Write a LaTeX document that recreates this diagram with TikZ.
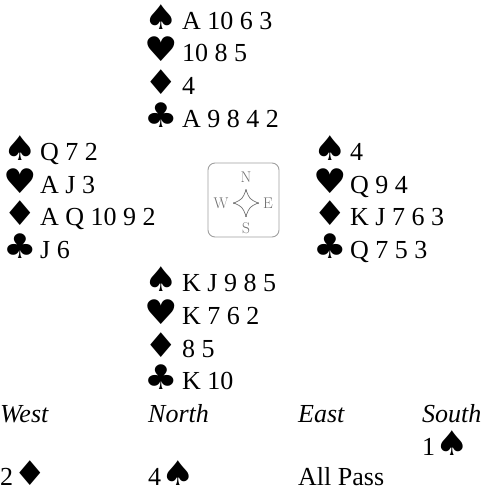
\documentclass[tikz,border=0pt]{standalone}
\usepackage{fontspec}
\newfontfamily\tnr{Liberation Serif}
\newfontfamily\dvs{DejaVu Sans}
\newcommand\handfont{\tnr\fontsize{26}{32.8}\selectfont}
\newcommand\bidfont{\tnr\itshape\fontsize{26}{32.8}\selectfont}
\newcommand\suitfont{\dvs\fontsize{34}{32.8}\selectfont}
\newcommand\compfont{\fontsize{15.5}{18}\selectfont}
\newcommand\st[1]{{\suitfont\scalebox{1.1}[1]{#1}}}
\definecolor{compgray}{HTML}{707070}
\definecolor{boxgray}{HTML}{A0A0A0}
% \hrow{name}{suit centre x}{text x}{baseline y}{suit}{cards}
\newcommand\hrow[6]{%
  \node[suitsym] (#1s) at (#2,#4) {\st{#5}};
  \node[cards] (#1) at (#3,#4) {#6};}
\begin{document}
\begin{tikzpicture}[x=1pt,y=-1pt,
  suitsym/.style={anchor=base,inner sep=0pt,font=\handfont},
  cards/.style={anchor=base west,inner sep=0pt,font=\handfont},
  bidhead/.style={anchor=base west,inner sep=0pt,font=\bidfont},
  compass/.style={font=\compfont,text=compgray,inner sep=0pt},
  vdot/.style={circle,fill=compgray,inner sep=0pt,minimum size=2pt}]
\useasboundingbox (0,0) rectangle (483,491);
% North
\hrow{ns}{161}{182}{29}{♠}{A 10 6 3}
\hrow{nh}{161}{182}{61.8}{♥}{10 8 5}
\hrow{nd}{161}{182}{94.6}{♦}{4}
\hrow{nc}{161}{182}{127.4}{♣}{A 9 8 4 2}
% West
\hrow{ws}{20}{40}{160.2}{♠}{Q 7 2}
\hrow{wh}{20}{40}{193}{♥}{A J 3}
\hrow{wd}{20}{40}{225.8}{♦}{A Q 10 9 2}
\hrow{wc}{20}{40}{258.6}{♣}{J 6}
% East
\hrow{es}{330}{350}{160.2}{♠}{4}
\hrow{eh}{330}{350}{193}{♥}{Q 9 4}
\hrow{ed}{330}{350}{225.8}{♦}{K J 7 6 3}
\hrow{ec}{330}{350}{258.6}{♣}{Q 7 5 3}
% South
\hrow{ss}{161}{182}{291.4}{♠}{K J 9 8 5}
\hrow{sh}{161}{182}{324.2}{♥}{K 7 6 2}
\hrow{sd}{161}{182}{357}{♦}{8 5}
\hrow{sc}{161}{182}{389.8}{♣}{K 10}
% Compass
\node[draw=boxgray,line width=0.9pt,rounded corners=7pt,minimum width=71pt,minimum height=74pt,inner sep=0pt] (box) at (243.5,200) {};
\coordinate (T) at (246,190);
\coordinate (R) at (258,203);
\coordinate (B) at (246,216);
\coordinate (L) at (234,203);
\draw[compgray,line width=0.7pt] (T) .. controls (249.6,199.1) .. (R)
  .. controls (249.6,206.9) .. (B)
  .. controls (242.4,206.9) .. (L)
  .. controls (242.4,199.1) .. (T);
\foreach \p in {T,R,B,L} \node[vdot] (d\p) at (\p) {};
\node[compass] (cn) at (246,177.5) {N};
\node[compass] (cw) at (221,203) {W};
\node[compass] (ce) at (268,203) {E};
\node[compass] (cs) at (246,228) {S};
% Bidding
\node[bidhead] (bw) at (0,422.6) {West};
\node[bidhead] (bn) at (148,422.6) {North};
\node[bidhead] (be) at (298,422.6) {East};
\node[bidhead] (bs) at (422,422.6) {South};
\node[cards] (b1) at (422,455.4) {1\st{♠}};
\node[cards] (b2) at (0,485) {2\st{♦}};
\node[cards] (b3) at (148,485) {4\st{♠}};
\node[cards] (b4) at (298,485) {All Pass};
\end{tikzpicture}
\end{document}
